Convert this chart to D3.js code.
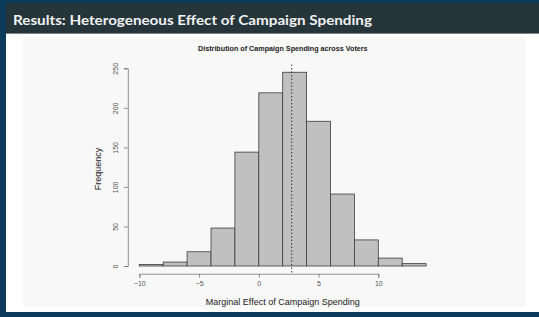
<!DOCTYPE html>
<html>
<head>
<meta charset="utf-8">
<script src="https://cdn.jsdelivr.net/npm/d3@7"></script>
<style>
  body { margin: 0; background: #0b3a5b; }
  svg { display: block; }
</style>
</head>
<body>
<svg id="chart"></svg>
<script>
// histogram bins (left edges, width 2) and counts
const binStarts = [-10, -8, -6, -4, -2, 0, 2, 4, 6, 8, 10, 12];
const counts = [2, 5, 18, 48, 144, 219, 245, 183, 91, 33, 10, 3];
const binWidth = 2;
const xTicks = [-10, -5, 0, 5, 10];
const yTicks = [0, 50, 100, 150, 200, 250];
const meanEffect = 2.75;

const [width, height] = [539, 317];
const svg = d3.select('#chart').attr('width', width).attr('height', height);

// slide frame
svg.append('rect').attr('width', width).attr('height', height).attr('fill', '#0b3a5b');
svg.append('rect').attr('x', 6).attr('y', 3).attr('width', width - 6).attr('height', 30).attr('fill', '#25353a');
svg.append('rect').attr('x', 6).attr('y', 33).attr('width', width - 6).attr('height', 1).attr('fill', '#7d8487');
svg.append('rect').attr('x', 6).attr('y', 34).attr('width', width - 6).attr('height', 278).attr('fill', '#ffffff');
svg.append('rect').attr('x', 23).attr('y', 37).attr('width', 503).attr('height', 270).attr('fill', '#f8f8f8');

svg.append('text')
  .attr('x', 13).attr('y', 25)
  .attr('fill', '#f2f2f2')
  .attr('font-family', 'Lato, sans-serif')
  .attr('font-weight', 'bold')
  .attr('font-size', 13.5)
  .attr('textLength', 359)
  .attr('lengthAdjust', 'spacingAndGlyphs')
  .text('Results: Heterogeneous Effect of Campaign Spending');

// plot
const x = d3.scaleLinear().domain([-10, 10]).range([139.3, 378.3]);
const y = d3.scaleLinear().domain([0, 250]).range([266, 68.3]);
const font = 'Liberation Sans, Arial, sans-serif';

svg.append('g')
  .selectAll('rect')
  .data(binStarts)
  .join('rect')
  .attr('x', (d) => x(d))
  .attr('y', (d, i) => y(counts[i]))
  .attr('width', (d) => x(d + binWidth) - x(d))
  .attr('height', (d, i) => y(0) - y(counts[i]))
  .attr('fill', '#c0c0c0')
  .attr('stroke', '#3c3c3c')
  .attr('stroke-width', 0.8);

// mean line, spans the plot region (R's 4% padding)
const yPad = 0.04 * d3.max(counts);
svg.append('line')
  .attr('x1', x(meanEffect)).attr('x2', x(meanEffect))
  .attr('y1', y(d3.max(counts) + yPad)).attr('y2', y(-yPad))
  .attr('stroke', '#222').attr('stroke-width', 0.9)
  .attr('stroke-dasharray', '1.5,2');

const xAxis = svg.append('g')
  .attr('transform', `translate(0,${y(-yPad)})`)
  .call(d3.axisBottom(x).tickValues(xTicks).tickSize(4).tickPadding(3).tickFormat(d3.format('d')));
xAxis.selectAll('text').attr('font-size', 7).attr('font-family', font).attr('fill', '#555');

const yAxis = svg.append('g')
  .attr('transform', `translate(${x(-10 - 0.04 * 24)},0)`)
  .call(d3.axisLeft(y).tickValues(yTicks).tickSize(4).tickPadding(3));
yAxis.selectAll('.tick text')
  .attr('font-size', 7).attr('font-family', font).attr('fill', '#555')
  .attr('text-anchor', 'middle')
  .attr('x', 0).attr('y', 0).attr('dy', 0)
  .attr('transform', 'translate(-10,0) rotate(-90)');

[xAxis, yAxis].forEach((a) => {
  a.selectAll('path, line').attr('stroke', '#777').attr('stroke-width', 0.8);
});

// titles
svg.append('text')
  .attr('x', 282.8).attr('y', 50.5)
  .attr('text-anchor', 'middle')
  .attr('font-family', font).attr('font-weight', 'bold').attr('font-size', 7.2)
  .attr('fill', '#222')
  .text('Distribution of Campaign Spending across Voters');

svg.append('text')
  .attr('x', 282.8).attr('y', 304.5)
  .attr('text-anchor', 'middle')
  .attr('font-family', font).attr('font-size', 9)
  .attr('fill', '#222')
  .text('Marginal Effect of Campaign Spending');

svg.append('text')
  .attr('transform', 'translate(101,169) rotate(-90)')
  .attr('text-anchor', 'middle')
  .attr('font-family', font).attr('font-size', 9)
  .attr('fill', '#222')
  .text('Frequency');
</script>
</body>
</html>
